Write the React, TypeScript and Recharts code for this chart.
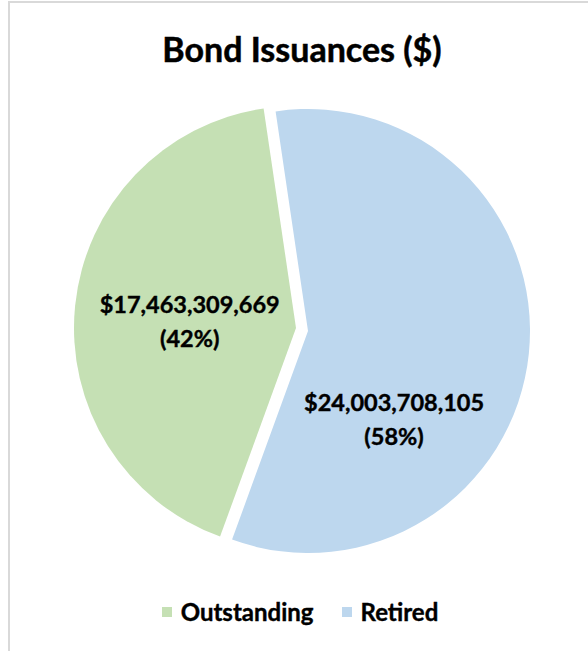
import React from 'react';
import { PieChart, Pie, Cell, Legend } from 'recharts';

const categories = ['Outstanding', 'Retired'];
const amounts = [17463309669, 24003708105];
const colors = ['#c5e0b4', '#bdd7ee'];

const data = categories.map((name, i) => ({ name, value: amounts[i] }));

const RADIAN = Math.PI / 180;
const FONT = 'Lato, "Open Sans", sans-serif';

// where each slice's label sits: shift from the mid angle, distance as share of radius
const labelSpots = [
  { shift: 2, frac: 0.48 },
  { shift: -40, frac: 0.556 },
];

const money = (v: number) => '$' + v.toLocaleString('en-US');

const makeLabel = (show: number) => (props: any) => {
  const { cx, cy, midAngle, outerRadius, percent, value, index } = props;
  if (index !== show) return null;
  const spot = labelSpots[index];
  const a = (midAngle + spot.shift) * RADIAN;
  const r = outerRadius * spot.frac;
  const x = cx + r * Math.cos(a);
  const y = cy - r * Math.sin(a);
  const common = {
    x,
    textAnchor: 'middle' as const,
    dominantBaseline: 'central' as const,
    fill: '#000',
    stroke: '#000',
    strokeWidth: 0.4,
    fontFamily: FONT,
    fontWeight: 700,
    fontSize: 23.5,
  };
  return (
    <g>
      <text {...common} y={y - 17}>{money(value)}</text>
      <text {...common} y={y + 17}>{`(${Math.round(percent * 100)}%)`}</text>
    </g>
  );
};

const renderLegend = () => (
  <div
    style={{
      display: 'flex',
      justifyContent: 'center',
      gap: 28,
      fontFamily: FONT,
      fontWeight: 700,
      fontSize: 24,
      color: '#000',
      WebkitTextStroke: '0.4px #000',
    }}
  >
    {categories.map((c, i) => (
      <span key={c} style={{ display: 'flex', alignItems: 'center' }}>
        <span style={{ width: 10, height: 10, background: colors[i], marginRight: 9 }} />
        {c}
      </span>
    ))}
  </div>
);

export default function App() {
  return (
    <div
      style={{
        position: 'absolute',
        left: 0,
        top: 0,
        width: 588,
        height: 651,
        overflow: 'hidden',
        background: '#fff',
      }}
    >
      <div
        style={{
          position: 'absolute',
          left: 8,
          top: 1,
          width: 700,
          height: 700,
          border: '2px solid #d9d9d9',
        }}
      />
      <div
        style={{
          position: 'absolute',
          left: 0,
          top: 32,
          width: 604,
          textAlign: 'center',
          fontFamily: FONT,
          fontWeight: 700,
          fontSize: 34,
          lineHeight: '34px',
          color: '#000',
          WebkitTextStroke: '0.5px #000',
        }}
      >
        Bond Issuances ($)
      </div>
      <div style={{ position: 'absolute', left: 0, top: 0 }}>
        <PieChart width={588} height={651} margin={{ top: 0, right: 0, bottom: 0, left: 0 }}>
          <Pie
            data={data}
            dataKey="value"
            nameKey="name"
            cx={296}
            cy={328}
            outerRadius={222}
            startAngle={-110}
            endAngle={-470}
            stroke="none"
            labelLine={false}
            label={makeLabel(0)}
            isAnimationActive={false}
          >
            {data.map((d, i) => (
              <Cell key={d.name} fill={colors[i]} fillOpacity={i === 0 ? 1 : 0} />
            ))}
          </Pie>
          <Pie
            data={data}
            dataKey="value"
            nameKey="name"
            cx={308}
            cy={331}
            outerRadius={222}
            startAngle={-110}
            endAngle={-470}
            stroke="none"
            labelLine={false}
            label={makeLabel(1)}
            isAnimationActive={false}
          >
            {data.map((d, i) => (
              <Cell key={d.name} fill={colors[i]} fillOpacity={i === 1 ? 1 : 0} />
            ))}
          </Pie>
          <Legend
            content={renderLegend}
            wrapperStyle={{ position: 'absolute', top: 597, left: 6, width: 588, height: 30 }}
          />
        </PieChart>
      </div>
    </div>
  );
}
